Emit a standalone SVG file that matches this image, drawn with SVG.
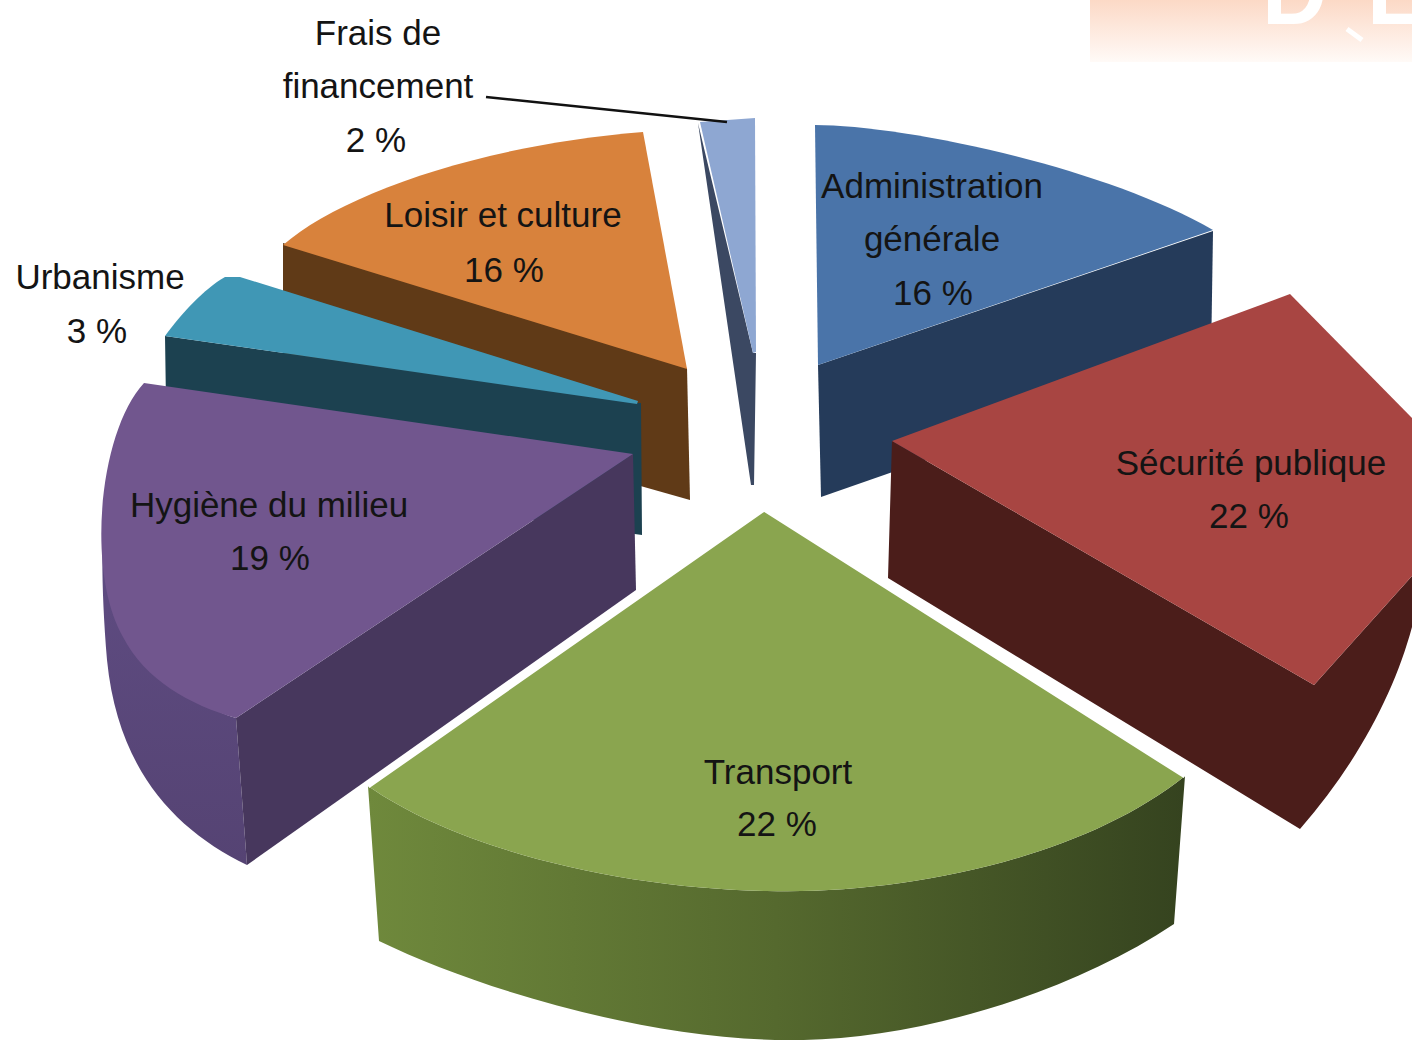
<svg xmlns="http://www.w3.org/2000/svg" width="1412" height="1040" viewBox="0 0 1412 1040">
<style>
.lbl{font-family:"Liberation Sans",Arial,sans-serif;font-size:35px;fill:#141414;text-anchor:middle}
.wm{font-family:"Liberation Sans",Arial,sans-serif;font-size:90px;font-weight:bold;fill:#ffffff;letter-spacing:40px}
</style>
<defs>
<linearGradient id="wmg" x1="0" y1="0" x2="0" y2="1">
<stop offset="0" stop-color="#fcd9c6"/>
<stop offset="1" stop-color="#fffaf7"/>
</linearGradient>
<linearGradient id="gside" gradientUnits="userSpaceOnUse" x1="368" y1="0" x2="1185" y2="0">
<stop offset="0" stop-color="#6f893c"/>
<stop offset="0.5" stop-color="#55692e"/>
<stop offset="1" stop-color="#35431f"/>
</linearGradient>
<linearGradient id="pwall" gradientUnits="userSpaceOnUse" x1="0" y1="500" x2="0" y2="865">
<stop offset="0" stop-color="#604d84"/>
<stop offset="1" stop-color="#554373"/>
</linearGradient>
</defs>
<rect width="1412" height="1040" fill="#ffffff"/>
<g id="watermark">
<rect x="1090" y="0" width="322" height="62" fill="url(#wmg)"/>
<text class="wm" x="1262" y="24">DEB</text>
<line x1="1347" y1="29" x2="1362" y2="40" stroke="#ffffff" stroke-width="5"/>
</g>
<g id="frais">
<path d="M698,123 L753,353 L756,353 L754,485 L751,485 Z" fill="#3b4862"/>
<path d="M700,122 L755,118 L756,352 L753,353 Z" fill="#8ea7d2"/>
<text class="lbl" x="378" y="45">Frais de</text>
<text class="lbl" x="378" y="98">financement</text>
<text class="lbl" x="376" y="152">2 %</text>
</g>
<g id="administration">
<path d="M818,365 L1213,231 L1211,361 L821,497 Z" fill="#253b5a"/>
<path d="M815,125 C900,125 1100,165 1213,230 L818,365 Z" fill="#4a74a9"/>
<text class="lbl" x="932" y="198">Administration</text>
<text class="lbl" x="932" y="251">générale</text>
<text class="lbl" x="933" y="305">16 %</text>
</g>
<g id="securite">
<path d="M892,441 L1314,685 L1412,576 L1412,627 C1395,690 1360,760 1300,829 L888,578 Z" fill="#4b1d1a"/>
<path d="M892,441 L1290,294 L1412,418 L1412,576 L1314,685 Z" fill="#a84542"/>
<text class="lbl" x="1251" y="475">Sécurité publique</text>
<text class="lbl" x="1249" y="528">22 %</text>
</g>
<g id="loisir">
<path d="M283,243 L687,368 L690,500 L283,385 Z" fill="#603a17"/>
<path d="M283,245 C340,195 480,145 643,132 L687,369 Z" fill="#d8823c"/>
<text class="lbl" x="503" y="227">Loisir et culture</text>
<text class="lbl" x="504" y="282">16 %</text>
</g>
<g id="urbanisme">
<path d="M165,336 L637,403 L641,403 L642,535 L167,470 Z" fill="#1c4150"/>
<path d="M165,336 C180,315 205,288 225,277 L240,277 L638,401 L637,404 Z" fill="#4097b5"/>
<text class="lbl" x="100" y="289">Urbanisme</text>
<text class="lbl" x="97" y="343">3 %</text>
</g>
<g id="hygiene">
<path d="M104,500 C104,600 160,695 236,718 L247,865 C175,830 118,770 107,660 C102,600 101,550 104,500 Z" fill="url(#pwall)"/>
<path d="M633,454 L636,590 L247,865 L236,718 Z" fill="#47375d"/>
<path d="M144,383 L633,454 L236,718 C190,705 145,680 123,637 C85,570 100,430 144,383 Z" fill="#71568e"/>
<text class="lbl" x="269" y="517">Hygiène du milieu</text>
<text class="lbl" x="270" y="570">19 %</text>
</g>
<g id="transport">
<path d="M368,786 C460,850 620,888 767,891 C900,895 1080,860 1185,776 L1174,924 C1060,1000 900,1042 788,1040 C650,1040 480,990 379,941 Z" fill="url(#gside)"/>
<path d="M764,509 L1185,776 C1080,860 900,895 767,891 C620,888 460,850 368,786 Z" fill="#8aa54f"/>
<path d="M368,786 L764,509 L1185,776" fill="none" stroke="#ffffff" stroke-width="5" stroke-linejoin="round"/>
<text class="lbl" x="778" y="784">Transport</text>
<text class="lbl" x="777" y="836">22 %</text>
</g>
<g id="connectors">
<line x1="486" y1="97" x2="727" y2="122" stroke="#111111" stroke-width="2.5"/>
</g>
</svg>
